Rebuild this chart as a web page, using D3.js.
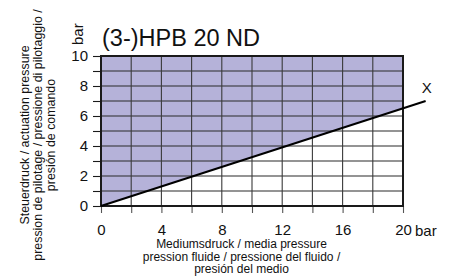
<!DOCTYPE html>
<html>
<head>
<meta charset="utf-8">
<script src="https://cdn.jsdelivr.net/npm/d3@7"></script>
<style>
  html, body { margin: 0; padding: 0; background: #fff; }
  svg { display: block; }
  text { font-family: Arial, "Liberation Sans", sans-serif; fill: #111; }
</style>
</head>
<body>
<svg id="chart" width="461" height="278"></svg>
<script>
// ---- data ----
const title = "(3-)HPB 20 ND";
const xTickValues = [0, 4, 8, 12, 16, 20];
const yTickValues = [0, 2, 4, 6, 8, 10];
const xGridValues = [2, 4, 6, 8, 10, 12, 14, 16, 18];
const yGridValues = [1, 2, 3, 4, 5, 6, 7, 8, 9];
const lineMedium = [0, 21.5];     // medium pressure (bar)
const lineActuation = [0, 7.0];   // actuation pressure (bar)
const lineLabel = "X";
const unit = "bar";
const yAxisTitle = ["Steuerdruck / actuation pressure",
                    "pression de pilotage / pressione di pilotaggio /",
                    "presión de comando"];
const xAxisTitle = ["Mediumsdruck / media pressure",
                    "pression fluide / pressione del fluido /",
                    "presión del medio"];

// ---- layout ----
const svg = d3.select("#chart");
const pL = 101, pR = 403, pT = 56, pB = 206;
const x = d3.scaleLinear().domain([0, 20]).range([pL, pR]);
const y = d3.scaleLinear().domain([0, 10]).range([pB, pT]);
const ink = "#1a1a1a";

svg.append("defs").append("clipPath").attr("id", "plotclip")
  .append("rect").attr("x", pL).attr("y", pT)
  .attr("width", pR - pL).attr("height", pB - pT);

const pts = lineMedium.map((v, i) => [v, lineActuation[i]]);

// shaded region above the line
svg.append("path")
  .datum(pts)
  .attr("clip-path", "url(#plotclip)")
  .attr("fill", "#b5b2d9")
  .attr("d", d3.area().x(d => x(d[0])).y0(y(10)).y1(d => y(d[1])));

// grid
const g = svg.append("g");
g.selectAll(".hg").data(yGridValues).enter().append("line")
  .attr("x1", pL).attr("x2", pR)
  .attr("y1", d => y(d)).attr("y2", d => y(d))
  .attr("stroke", "#2a2a2a").attr("stroke-width", 1.1);
g.selectAll(".vg").data(xGridValues).enter().append("line")
  .attr("y1", pT).attr("y2", pB)
  .attr("x1", d => x(d)).attr("x2", d => x(d))
  .attr("stroke", "#3a3a3a").attr("stroke-width", 1.1);

// axes
const yAxis = d3.axisLeft(y).tickValues(d3.range(0, 11, 1)).tickSize(8)
  .tickFormat(d => yTickValues.includes(d) ? d : "");
const yg = svg.append("g").attr("transform", `translate(${pL},0)`).call(yAxis);
yg.select(".domain").remove();
yg.selectAll(".tick line").attr("stroke", ink).attr("stroke-width", 1.1);
yg.selectAll(".tick text").attr("font-size", 15).attr("x", -13).attr("fill", "#111")
  .style("font-family", "Arial, 'Liberation Sans', sans-serif");

const xAxis = d3.axisBottom(x).tickValues(d3.range(0, 21, 2)).tickSize(7)
  .tickFormat(d => xTickValues.includes(d) ? d : "");
const xg = svg.append("g").attr("transform", `translate(0,${pB})`).call(xAxis);
xg.select(".domain").remove();
xg.selectAll(".tick line").attr("stroke", "#555").attr("stroke-width", 1.1);
xg.selectAll(".tick text").attr("font-size", 15).attr("y", 18).attr("dy", "0.71em").attr("fill", "#111")
  .style("font-family", "Arial, 'Liberation Sans', sans-serif");

// border
svg.append("rect").attr("x", pL).attr("y", pT)
  .attr("width", pR - pL).attr("height", pB - pT)
  .attr("fill", "none").attr("stroke", ink).attr("stroke-width", 2);

// characteristic line
svg.append("path").datum(pts)
  .attr("fill", "none").attr("stroke", "#000").attr("stroke-width", 2)
  .attr("d", d3.line().x(d => x(d[0])).y(d => y(d[1])));

svg.append("text").attr("x", x(lineMedium[1]) + 1).attr("y", y(lineActuation[1]) - 8)
  .attr("text-anchor", "middle").attr("font-size", 15).text(lineLabel);

// title
svg.append("text").attr("x", 102).attr("y", 46).attr("font-size", 23.5).text(title);

// units
svg.append("text").attr("transform", "translate(83,45) rotate(-90)")
  .attr("font-size", 15).text(unit);
svg.append("text").attr("x", 415).attr("y", 236).attr("font-size", 15).text(unit);

// axis titles
yAxisTitle.forEach((t, i) => {
  svg.append("text").attr("transform", `translate(${28.5 + i * 13},135) rotate(-90)`)
    .attr("text-anchor", "middle").attr("font-size", 12.4).text(t);
});
xAxisTitle.forEach((t, i) => {
  svg.append("text").attr("x", 241.5).attr("y", 248 + i * 12.5)
    .attr("text-anchor", "middle").attr("font-size", 12).text(t);
});
</script>
</body>
</html>
